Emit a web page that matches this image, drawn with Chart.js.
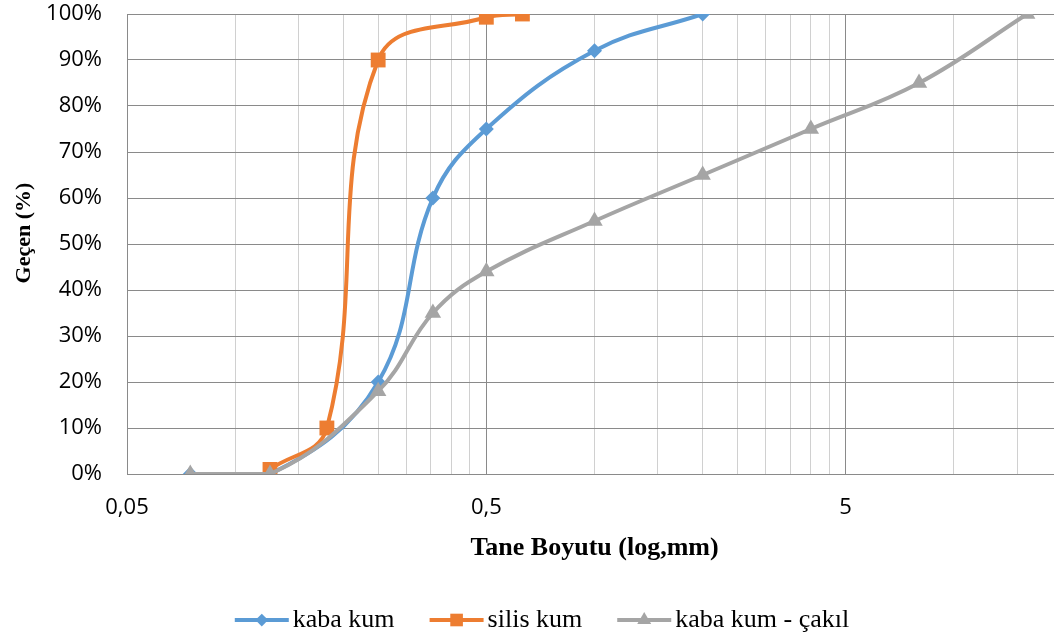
<!DOCTYPE html>
<html><head><meta charset="utf-8">
<script src="https://cdn.jsdelivr.net/npm/chart.js@4.4.1/dist/chart.umd.min.js"></script>
<style>
html,body{margin:0;padding:0;overflow:hidden;background:#fff;}
#wrap{position:relative;width:1084px;height:636px;}
</style></head><body>
<div id="wrap"><canvas id="c" width="1084" height="636"></canvas></div>
<script>
// ---- data ----
const seriesNames = ['kaba kum', 'silis kum', 'kaba kum - çakıl'];
const kabaKumSizes = [0.075, 0.125, 0.25, 0.355, 0.5, 1, 2];
const kabaKumPassing = [0, 0, 20, 60, 75, 92, 100];
const silisKumSizes = [0.125, 0.18, 0.25, 0.5, 0.63];
const silisKumPassing = [1, 10, 90, 99.3, 100];
const cakilSizes = [0.075, 0.125, 0.25, 0.355, 0.5, 1, 2, 4, 8, 16];
const cakilPassing = [0, 0, 18, 35, 44, 55, 65, 75, 85, 100];
const xMajorTicks = [0.05, 0.5, 5];
const xMajorLabels = ['0,05', '0,5', '5'];
const xMinorTicks = [0.1, 0.15, 0.2, 0.25, 0.3, 0.35, 0.4, 0.45,
                     1, 1.5, 2, 2.5, 3, 3.5, 4, 4.5, 10, 15, 20];
const yTickStep = 10;
const xTitle = 'Tane Boyutu (log,mm)';
const yTitle = 'Geçen (%)';

// ---- styles ----
const colors = ['#5B9BD5', '#ED7D31', '#A5A5A5'];
const markers = ['rectRot', 'rect', 'triangle'];
const markerRadius = [7.5, 10.5, 9.5];
const majorGrid = '#8a8a8a';
const minorGrid = '#d0d0d0';
const serif = '"Liberation Serif", "Times New Roman", serif';
const sans = '"Open Sans", "Liberation Sans", sans-serif';

function pts(xs, ys) { return xs.map((x, i) => ({x: x, y: ys[i]})); }
function isMajor(v) { return xMajorTicks.some(m => Math.abs(m - v) < 1e-9); }

function drawMarker(ctx, style, r, x, y, color) {
  ctx.beginPath();
  if (style === 'rectRot') {
    ctx.moveTo(x, y - r); ctx.lineTo(x + r, y); ctx.lineTo(x, y + r); ctx.lineTo(x - r, y);
  } else if (style === 'rect') {
    const s = r * Math.SQRT1_2; ctx.rect(x - s, y - s, 2 * s, 2 * s);
  } else {
    ctx.moveTo(x, y - r);
    ctx.lineTo(x + r * Math.sin(2 * Math.PI / 3), y - r * Math.cos(2 * Math.PI / 3));
    ctx.lineTo(x + r * Math.sin(4 * Math.PI / 3), y - r * Math.cos(4 * Math.PI / 3));
  }
  ctx.closePath();
  ctx.fillStyle = color; ctx.fill();
}

const lineLegend = {
  id: 'lineLegend',
  afterDraw(chart) {
    const ctx = chart.ctx;
    ctx.save();
    ctx.font = '26px ' + serif;
    ctx.textBaseline = 'middle';
    const lineLen = 54, gap = 4, itemGap = 35, y = 620;
    const ds = chart.data.datasets;
    const widths = ds.map(d => ctx.measureText(d.label).width);
    let total = itemGap * (ds.length - 1);
    widths.forEach(w => total += lineLen + gap + w);
    let x = chart.width / 2 - total / 2;
    ds.forEach((d, i) => {
      ctx.strokeStyle = colors[i]; ctx.lineWidth = 4;
      ctx.beginPath(); ctx.moveTo(x, y); ctx.lineTo(x + lineLen, y); ctx.stroke();
      drawMarker(ctx, markers[i], markerRadius[i] * 0.85, x + lineLen / 2, y, colors[i]);
      ctx.fillStyle = '#000';
      ctx.fillText(d.label, x + lineLen + gap, y);
      x += lineLen + gap + widths[i] + itemGap;
    });
    ctx.restore();
  }
};

function makeDataset(i, xs, ys, order) {
  return {
    label: seriesNames[i], data: pts(xs, ys),
    borderColor: colors[i], backgroundColor: colors[i],
    pointStyle: markers[i], pointRadius: markerRadius[i], pointHoverRadius: markerRadius[i],
    pointBorderWidth: 0, borderWidth: 4, tension: 0.4, order: order
  };
}

function build() {
  new Chart(document.getElementById('c'), {
    type: 'line',
    data: {
      datasets: [
        makeDataset(0, kabaKumSizes, kabaKumPassing, 3),
        makeDataset(1, silisKumSizes, silisKumPassing, 2),
        makeDataset(2, cakilSizes, cakilPassing, 1)
      ]
    },
    options: {
      responsive: false, animation: false,
      layout: {padding: {top: 14, right: 22, bottom: 72, left: 0}},
      plugins: {legend: {display: false}, tooltip: {enabled: false}},
      scales: {
        x: {
          type: 'logarithmic', min: xMajorTicks[0], max: xMinorTicks[xMinorTicks.length - 1],
          afterBuildTicks: s => {
            s.ticks = xMajorTicks.concat(xMinorTicks).sort((a, b) => a - b).map(v => ({value: v}));
          },
          afterFit: s => { s.height = 90; },
          ticks: {
            autoSkip: false, maxRotation: 0, minRotation: 0, padding: 21,
            color: '#000', font: {family: sans, size: 22},
            callback: v => { const k = xMajorTicks.findIndex(m => Math.abs(m - v) < 1e-9); return k >= 0 ? xMajorLabels[k] : ''; }
          },
          grid: {color: c => (c.tick && isMajor(c.tick.value)) ? majorGrid : minorGrid, drawTicks: false, lineWidth: 1},
          border: {color: majorGrid},
          title: {display: true, text: xTitle, color: '#000', padding: 0,
                  font: {family: serif, size: 26, weight: 'bold'}}
        },
        y: {
          type: 'linear', min: 0, max: 100,
          afterFit: s => { s.width = 127; s.paddingTop = 0; s.paddingBottom = 0; },
          ticks: {stepSize: yTickStep, padding: 25, color: '#000', font: {family: sans, size: 22},
                  callback: v => v + '%'},
          grid: {color: majorGrid, drawTicks: false, lineWidth: 1},
          border: {color: majorGrid},
          title: {display: true, text: '\u00a0\u00a0\u00a0\u00a0' + yTitle, color: '#000',
                  padding: {top: 11, bottom: 0},
                  font: {family: serif, size: 22, weight: 'bold'}}
        }
      }
    },
    plugins: [lineLegend]
  });
}

if (document.fonts && document.fonts.load) {
  Promise.all([
    document.fonts.load('22px "Open Sans"'),
    document.fonts.load('bold 26px "Liberation Serif"'),
    document.fonts.load('26px "Liberation Serif"')
  ]).then(build, build);
} else { build(); }
</script>
</body></html>
